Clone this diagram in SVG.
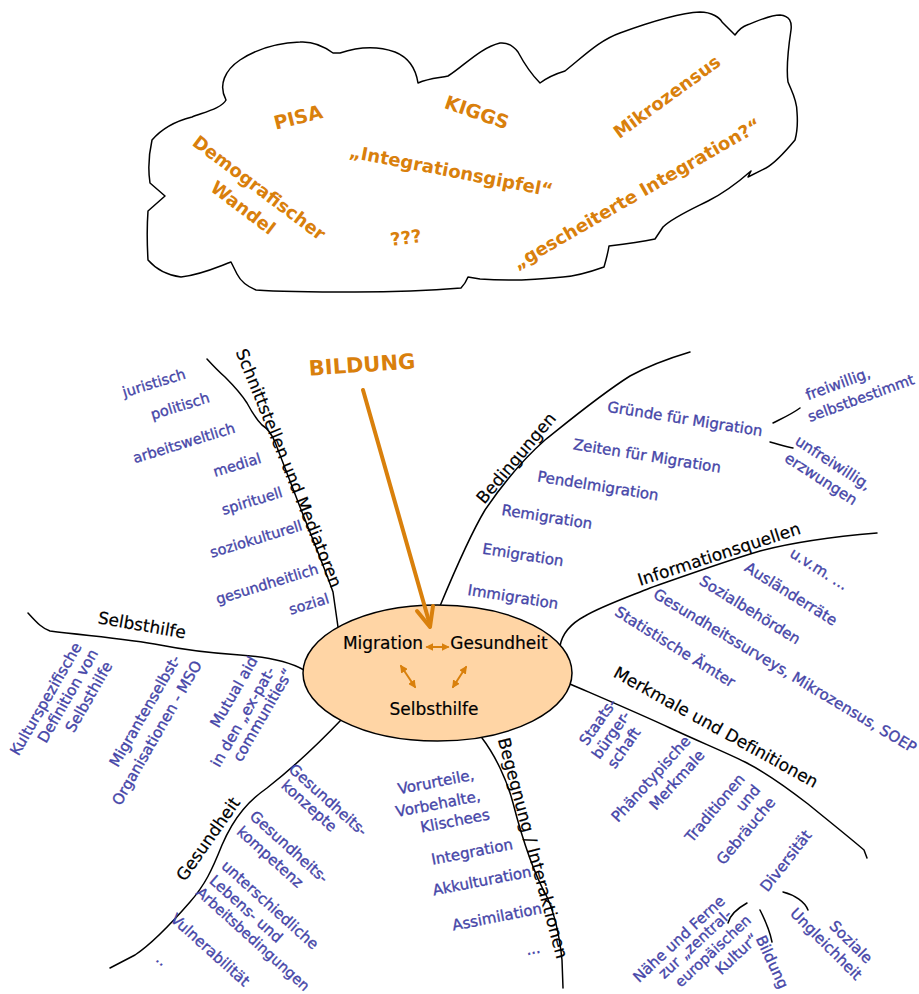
<svg xmlns="http://www.w3.org/2000/svg" width="919" height="994" viewBox="0 0 919 994">
<style>
text { font-family: "DejaVu Sans", "Liberation Sans", sans-serif; text-anchor: middle; }
.b { fill: #4646a8; font-size: 15px; stroke: #4646a8; stroke-width: 0.35; }
.k { fill: #000; font-size: 17px; stroke: #000; stroke-width: 0.2; }
.o { fill: #d9800c; font-size: 18px; font-weight: bold; }
.ln { fill: none; stroke: #000; stroke-width: 1.5; stroke-linecap: round; stroke-linejoin: round; }
.oa { fill: none; stroke: #d9800c; stroke-linecap: round; }
</style>
<defs>
<marker id="ah" viewBox="0 0 10 10" refX="8" refY="5" markerWidth="4" markerHeight="4" orient="auto-start-reverse">
<path d="M0,0 L10,5 L0,10 Z" fill="#d9800c"/>
</marker>
</defs>
<rect width="919" height="994" fill="#fff"/>

<g id="cloud">
<path class="ln" d="M152,140 C165,125 180,120 192,117 C205,112 222,108 226,100 C218,85 225,70 240,60 C255,50 275,43 300,42 C315,41 325,47 333,53 L340,53 C355,48 375,45 395,52 C410,58 416,70 418,83 C430,78 440,78 448,76 C465,65 480,48 500,43 C510,42 515,48 518,52 C525,65 532,75 540,83 C548,77 555,74 565,71 C585,55 600,40 620,33 C650,22 680,13 700,12 C712,12 720,18 722,22 C728,28 732,32 735,35 C740,28 744,26 747,25 C760,20 770,15 780,15 C790,16 792,22 791,30 C788,50 786,68 788,82 C792,92 797,100 797,112 C798,125 797,133 795,140 C785,152 775,163 766,168 L748,177 L751,171 C735,185 720,195 708,201 C690,210 672,218 663,227 L655,239 C640,242 625,244 609,246 C608,253 606,260 604,267 C590,272 578,276 563,277 C535,280 505,281 480,279 L468,277 C466,282 464,285 461,288 C425,291 390,292 355,292 C320,292 285,292 256,290 C246,286 240,280 237,274 L231,262 C215,268 200,275 181,277 C165,275 155,268 148,260 C147,243 147,225 148,211 L165,196 L150,183 C148,170 148,158 152,140 Z"/>
<text class="o" style="font-size:19px" transform="translate(298,117) rotate(-14)" y="7">PISA</text>
<text class="o" style="font-size:19px" transform="translate(477,112) rotate(19)" y="7">KIGGS</text>
<text class="o" transform="translate(667,97) rotate(-36)" y="6">Mikrozensus</text>
<text class="o" transform="translate(451,171) rotate(11)" y="6">„Integrationsgipfel“</text>
<text class="o" transform="translate(259,188) rotate(37)" y="6">Demografischer</text>
<text class="o" transform="translate(243,208) rotate(37)" y="6">Wandel</text>
<text class="o" transform="translate(406,238) rotate(-8)" y="6">???</text>
<text class="o" transform="translate(637,194) rotate(-30)" y="6">„gescheiterte Integration?“</text>
</g>

<g id="connectors">
<path class="ln" d="M207,359 Q217,370 225,377 Q240,392 247,403 Q255,418 262,425 Q270,430 275,442 L300,507 Q326,572 333,592 L338,627"/>
<path class="ln" d="M440,606 C455,570 470,535 485,510 C500,488 520,462 545,440 C570,420 600,395 630,376 C650,365 670,358 690,352"/>
<path class="ln" d="M560,646 C562,635 570,624 585,616 C600,607 625,598 650,588 C690,574 720,563 760,551 C790,543 830,537 877,533"/>
<path class="ln" d="M570,684 C600,697 640,714 670,728 C700,742 725,752 745,762 C765,772 790,790 808,804 C830,822 850,838 864,850 L867,858"/>
<path class="ln" d="M482,738 C495,755 507,780 513,803 C520,830 532,870 547,897 C555,915 560,940 562,960 L563,988"/>
<path class="ln" d="M341,720 C320,742 290,770 267,788 C250,800 235,815 222,845 C212,870 205,885 190,902 C170,925 150,945 135,955 L110,968"/>
<path class="ln" d="M304,670 C290,662 270,657 240,655 C210,653 185,650 160,645 C130,639 90,636 50,631 C42,628 38,624 28,613"/>
<path class="ln" d="M773,423 C783,418 792,414 800,408"/>
<path class="ln" d="M770,442 C778,444 786,447 793,448"/>
<path class="ln" d="M747,903 C738,908 730,915 728,923"/>
<path class="ln" d="M760,910 C765,920 770,932 772,942"/>
<path class="ln" d="M783,892 C795,895 805,902 808,910"/>
</g>

<g id="center">
<ellipse cx="437.5" cy="673" rx="134.5" ry="68" fill="#ffd5a5" stroke="#000" stroke-width="1.5"/>
<text class="k" x="383" y="649">Migration</text>
<text class="k" x="499" y="649">Gesundheit</text>
<text class="k" x="434" y="715">Selbsthilfe</text>
<path class="oa" stroke-width="2" marker-start="url(#ah)" marker-end="url(#ah)" d="M427,647 L448,647"/>
<path class="oa" stroke-width="2" marker-start="url(#ah)" marker-end="url(#ah)" d="M401,666 L415,687"/>
<path class="oa" stroke-width="2" marker-start="url(#ah)" marker-end="url(#ah)" d="M466,667 L453,687"/>
</g>

<g id="bildung">
<text class="o" style="font-size:21px" transform="translate(362,365) rotate(-4)" y="7">BILDUNG</text>
<path class="oa" stroke-width="4" d="M363,390 L430,625"/>
<path class="oa" stroke-width="4" stroke-linejoin="round" d="M417,611 L430,627 L433,606"/>
</g>

<g id="schnittstellen">
<text class="k" transform="translate(289,468) rotate(68)" y="6">Schnittstellen und Mediatoren</text>
<text class="b" style="font-size:14.5px" transform="translate(154,383) rotate(-17)" y="5">juristisch</text>
<text class="b" style="font-size:14.5px" transform="translate(180,406) rotate(-17)" y="5">politisch</text>
<text class="b" style="font-size:14.5px" transform="translate(184,443) rotate(-17)" y="5">arbeitsweltlich</text>
<text class="b" style="font-size:14.5px" transform="translate(237,465) rotate(-17)" y="5">medial</text>
<text class="b" style="font-size:14.5px" transform="translate(252,501) rotate(-17)" y="5">spirituell</text>
<text class="b" style="font-size:14.5px" transform="translate(256,539) rotate(-17)" y="5">soziokulturell</text>
<text class="b" style="font-size:14.5px" transform="translate(267,584) rotate(-17)" y="5">gesundheitlich</text>
<text class="b" style="font-size:14.5px" transform="translate(309,604) rotate(-17)" y="5">sozial</text>
</g>

<g id="bedingungen">
<text class="k" transform="translate(516,458) rotate(-50)" y="6">Bedingungen</text>
<text class="b" transform="translate(685,419) rotate(9)" y="5">Gründe für Migration</text>
<text class="b" transform="translate(647,456) rotate(9)" y="5">Zeiten für Migration</text>
<text class="b" transform="translate(598,486) rotate(9)" y="5">Pendelmigration</text>
<text class="b" transform="translate(547,517) rotate(9)" y="5">Remigration</text>
<text class="b" transform="translate(523,555) rotate(9)" y="5">Emigration</text>
<text class="b" transform="translate(513,597) rotate(9)" y="5">Immigration</text>
<text class="b" transform="translate(838,384) rotate(-20)" y="5">freiwillig,</text>
<text class="b" style="font-size:14.5px" transform="translate(861,398) rotate(-20)" y="5">selbstbestimmt</text>
<text class="b" transform="translate(833,463) rotate(33)" y="5">unfreiwillig,</text>
<text class="b" transform="translate(821,479) rotate(33)" y="5">erzwungen</text>
</g>

<g id="informationsquellen">
<text class="k" transform="translate(719,554) rotate(-18)" y="6">Informationsquellen</text>
<text class="b" transform="translate(819,569) rotate(32)" y="5">u.v.m. ...</text>
<text class="b" transform="translate(791,594) rotate(32)" y="5">Ausländerräte</text>
<text class="b" transform="translate(750,610) rotate(32)" y="5">Sozialbehörden</text>
<text class="b" transform="translate(785,671) rotate(31)" y="5">Gesundheitssurveys, Mikrozensus, SOEP</text>
<text class="b" transform="translate(675,647) rotate(32)" y="5">Statistische Ämter</text>
</g>

<g id="merkmale">
<text class="k" transform="translate(716,727) rotate(29)" y="6">Merkmale und Definitionen</text>
<text class="b" transform="translate(598,722) rotate(-55)" y="5">Staats-</text>
<text class="b" transform="translate(611,735) rotate(-55)" y="5">bürger-</text>
<text class="b" transform="translate(624,748) rotate(-55)" y="5">schaft</text>
<text class="b" transform="translate(651,779) rotate(-48)" y="5">Phänotypische</text>
<text class="b" transform="translate(677,780) rotate(-48)" y="5">Merkmale</text>
<text class="b" transform="translate(715,808) rotate(-50)" y="5">Traditionen</text>
<text class="b" transform="translate(748,798) rotate(-50)" y="5">und</text>
<text class="b" transform="translate(746,831) rotate(-50)" y="5">Gebräuche</text>
<text class="b" transform="translate(786,861) rotate(-52)" y="5">Diversität</text>
<text class="b" transform="translate(679,939) rotate(-43)" y="5">Nähe und Ferne</text>
<text class="b" transform="translate(695,944) rotate(-43)" y="5">zur „zentral-</text>
<text class="b" style="font-size:14.5px" transform="translate(713,951) rotate(-43)" y="5">europäischen</text>
<text class="b" transform="translate(737,954) rotate(-43)" y="5">Kultur“</text>
<text class="b" transform="translate(772,962) rotate(65)" y="5">Bildung</text>
<text class="b" transform="translate(851,942) rotate(45)" y="5">Soziale</text>
<text class="b" transform="translate(826,944) rotate(45)" y="5">Ungleichheit</text>
</g>

<g id="begegnung">
<text class="k" transform="translate(533,848) rotate(75)" y="6">Begegnung / Interaktionen</text>
<text class="b" transform="translate(436,782) rotate(-11)" y="5">Vorurteile,</text>
<text class="b" transform="translate(438,804) rotate(-11)" y="5">Vorbehalte,</text>
<text class="b" transform="translate(455,821) rotate(-11)" y="5">Klischees</text>
<text class="b" transform="translate(472,852) rotate(-11)" y="5">Integration</text>
<text class="b" transform="translate(482,881) rotate(-11)" y="5">Akkulturation</text>
<text class="b" transform="translate(497,917) rotate(-11)" y="5">Assimilation</text>
<text class="b" transform="translate(533,949) rotate(-11)" y="5">...</text>
</g>

<g id="gesundheit">
<text class="k" transform="translate(208,839) rotate(-55)" y="6">Gesundheit</text>
<text class="b" transform="translate(328,800) rotate(42)" y="5">Gesundheits-</text>
<text class="b" transform="translate(309,806) rotate(42)" y="5">konzepte</text>
<text class="b" transform="translate(289,847) rotate(42)" y="5">Gesundheits-</text>
<text class="b" transform="translate(270,857) rotate(42)" y="5">kompetenz</text>
<text class="b" transform="translate(270,905) rotate(42)" y="5">unterschiedliche</text>
<text class="b" transform="translate(246,909) rotate(42)" y="5">Lebens- und</text>
<text class="b" style="font-size:14.5px" transform="translate(253,939) rotate(42)" y="5">Arbeitsbedingungen</text>
<text class="b" transform="translate(210,950) rotate(42)" y="5">Vulnerabilität</text>
<text class="b" transform="translate(162,960) rotate(42)" y="5">..</text>
</g>

<g id="selbsthilfe">
<text class="k" transform="translate(142,625) rotate(10)" y="6">Selbsthilfe</text>
<text class="b" transform="translate(46,699) rotate(-60)" y="5">Kulturspezifische</text>
<text class="b" transform="translate(68,696) rotate(-60)" y="5">Definition von</text>
<text class="b" transform="translate(89,697) rotate(-60)" y="5">Selbsthilfe</text>
<text class="b" transform="translate(145,711) rotate(-60)" y="5">Migrantenselbst-</text>
<text class="b" transform="translate(157,733) rotate(-60)" y="5">Organisationen - MSO</text>
<text class="b" transform="translate(234,692) rotate(-60)" y="5">Mutual aid</text>
<text class="b" transform="translate(243,717) rotate(-60)" y="5">in den „ex-pat-</text>
<text class="b" transform="translate(263,715) rotate(-60)" y="5">communities“</text>
</g>
</svg>
